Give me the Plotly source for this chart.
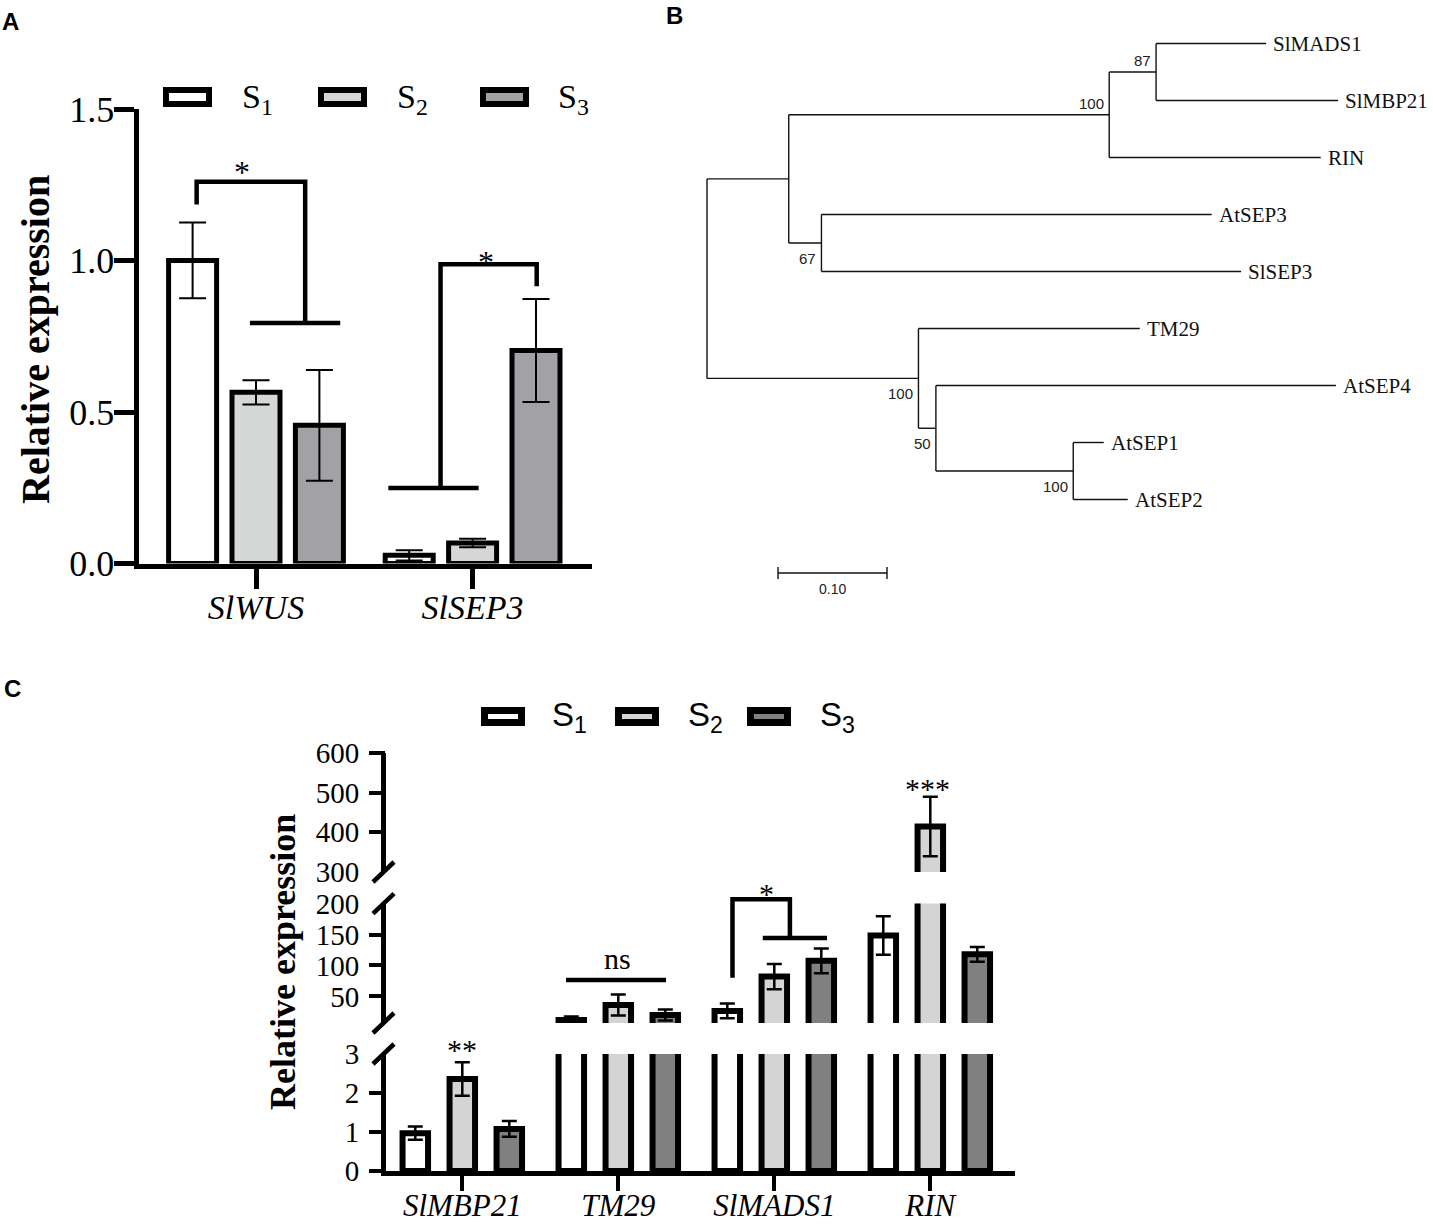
import plotly.graph_objects as go

W, H = 1433, 1224

# ---------------- data ----------------
series_labels = ["S<sub>1</sub>", "S<sub>2</sub>", "S<sub>3</sub>"]
colors_A = ["#ffffff", "#d5d7d6", "#a2a2a6"]
colors_C = ["#ffffff", "#d4d4d4", "#808080"]

# Panel A
genes_A = ["SlWUS", "SlSEP3"]
expr_A_S1 = [1.0, 0.027]
expr_A_S2 = [0.565, 0.068]
expr_A_S3 = [0.456, 0.703]
err_A_S1 = [0.125, 0.017]
err_A_S2 = [0.04, 0.014]
err_A_S3 = [0.183, 0.17]
ticks_A = [0, 0.5, 1.0, 1.5]
ticklabels_A = ["0.0", "0.5", "1.0", "1.5"]

# Panel C
genes_C = ["SlMBP21", "TM29", "SlMADS1", "RIN"]
expr_C_S1 = [0.97, 12, 26.5, 148.5]
expr_C_S2 = [2.36, 36, 82, 415]
expr_C_S3 = [1.08, 20, 107.5, 118]
err_C_S1 = [0.17, 5.5, 12, 31]
err_C_S2 = [0.43, 17, 20.5, 75]
err_C_S3 = [0.2, 9, 20, 12]
seg_range_C = [[0, 3], [7, 200], [300, 600]]
seg_labels_C = [[0, 1, 2, 3], [50, 100, 150, 200], [300, 400, 500, 600]]
seg_marks_C = [[0, 1, 2], [50, 100, 150], [400, 500, 600]]

# Panel B tree
tree_nodes = ["root", "n1", "n2", "n87", "SlMADS1", "SlMBP21", "RIN", "n67", "AtSEP3", "SlSEP3",
              "n3", "TM29", "n50", "AtSEP4", "n4", "AtSEP1", "AtSEP2"]
tree_parents = [None, "root", "n1", "n2", "n87", "n87", "n2", "n1", "n67", "n67",
                "root", "n3", "n3", "n50", "n50", "n4", "n4"]
tree_branch = [0.0, 0.075, 0.294, 0.043, 0.101, 0.167, 0.194, 0.030, 0.358, 0.385,
               0.194, 0.203, 0.016, 0.367, 0.126, 0.028, 0.050]
tree_bootstrap = {"n2": 100, "n87": 87, "n67": 67, "n3": 100, "n50": 50, "n4": 100}
scale_bar_length = 0.10

# significance marks
sig_A_brackets = [
    [(-0.274, 1.185), (-0.274, 1.26), (0.227, 1.26), (0.227, 0.794)],
    [(-0.028, 0.794), (0.389, 0.794)],
    [(0.611, 0.249), (1.028, 0.249)],
    [(0.852, 0.249), (0.852, 0.988), (1.296, 0.988), (1.296, 0.915)],
]
sig_A_text = [(-0.065, 1.312, "*"), (1.062, 1.015, "*")]
# (x unit, value, segment)
sig_C_brackets = [
    [(0.665, 76.5, 1), (1.306, 76.5, 1)],
    [(1.732, 80, 1), (1.732, 207, 1), (2.10, 207, 1), (2.10, 144.5, 1)],
    [(1.926, 144.5, 1), (2.338, 144.5, 1)],
]
sig_C_text = [(0.0, 3.20, 0, "**"), (0.992, 112, 1, "ns"), (1.951, 221, 1, "*"), (2.985, 519, 2, "***")]

# ---------------- geometry (pixels) ----------------
SERIF = "Liberation Serif"
SANS = "Liberation Sans"

A_g0, A_unit = 256.0, 216.6
A_xdom = (138.5, 592.0)
A_ydom = (109.0, 563.5)  # top, bottom
A_slot = 63.4 / A_unit
A_w = 48.0 / A_unit

C_g0, C_unit = 462.3, 156.0
C_xdom = (386.0, 1015.0)
C_ydom = [(1054.0, 1171.0), (903.6, 1023.0), (753.0, 872.0)]
C_slot = 47.0 / C_unit
C_w = 25.5 / C_unit

B_x0, B_scale = 707.0, 1090.0
B_y0, B_step = 43.5, 57.0
B_xdom = (660.0, 1433.0)
B_ydom = (0.0, 610.0)


def py(p):
    return 1 - p / H


def C_yp(seg, v):
    r0, r1 = seg_range_C[seg]
    top, bot = C_ydom[seg]
    return py(bot - (v - r0) / (r1 - r0) * (bot - top))


fig = go.Figure()

# ---------------- Panel A ----------------
A_vals = [expr_A_S1, expr_A_S2, expr_A_S3]
A_errs = [err_A_S1, err_A_S2, err_A_S3]
for i in range(3):
    fig.add_trace(go.Bar(
        x=list(range(len(genes_A))), y=A_vals[i], width=A_w, offset=(i - 1) * A_slot - A_w / 2,
        marker=dict(color=colors_A[i], line=dict(color="black", width=5)),
        error_y=dict(type="data", array=A_errs[i], color="black", thickness=2, width=13.5),
        xaxis="x", yaxis="y", showlegend=False, hoverinfo="skip"))

# ---------------- Panel C (broken axis: same bars drawn in 3 segments) ----------------
C_vals = [expr_C_S1, expr_C_S2, expr_C_S3]
C_errs = [err_C_S1, err_C_S2, err_C_S3]
for seg, yax in enumerate(["y3", "y4", "y5"]):
    lo = seg_range_C[seg][0]
    for i in range(3):
        vis = [v if v > lo else None for v in C_vals[i]]
        fig.add_trace(go.Bar(
            x=list(range(len(genes_C))), y=vis, width=C_w, offset=(i - 1) * C_slot - C_w / 2,
            marker=dict(color=colors_C[i], line=dict(color="black", width=6)),
            error_y=dict(type="data", array=C_errs[i], color="black", thickness=2.5, width=7.5),
            xaxis="x3", yaxis=yax, showlegend=False, hoverinfo="skip"))
for yax in ["y6", "y7", "y8"]:
    fig.add_trace(go.Scatter(x=[None], y=[None], xaxis="x3", yaxis=yax, showlegend=False, hoverinfo="skip"))

# ---------------- Panel B tree ----------------
children = {n: [] for n in tree_nodes}
for n, p in zip(tree_nodes, tree_parents):
    if p:
        children[p].append(n)
blen = dict(zip(tree_nodes, tree_branch))
parent_of = dict(zip(tree_nodes, tree_parents))
depth, ypos = {}, {}
leaf_counter = [0]


def walk(n, d):
    depth[n] = d
    if not children[n]:
        ypos[n] = leaf_counter[0]
        leaf_counter[0] += 1
    else:
        for c in children[n]:
            walk(c, d + blen[c])
        ypos[n] = (ypos[children[n][0]] + ypos[children[n][-1]]) / 2


walk("root", 0.0)
tx, ty = [], []
for n in tree_nodes:
    p = parent_of[n]
    if p:
        tx += [depth[p], depth[n], None]
        ty += [ypos[n], ypos[n], None]
    if children[n]:
        tx += [depth[n], depth[n], None]
        ty += [ypos[children[n][0]], ypos[children[n][-1]], None]
fig.add_trace(go.Scatter(x=tx, y=ty, mode="lines", line=dict(color="#111111", width=1.4),
                         xaxis="x2", yaxis="y2", showlegend=False, hoverinfo="skip"))
sb_x0 = (778 - B_x0) / B_scale
sb_y = (573 - B_y0) / B_step
sb_t = 6 / B_step
fig.add_trace(go.Scatter(
    x=[sb_x0, sb_x0 + scale_bar_length, None, sb_x0, sb_x0, None, sb_x0 + scale_bar_length, sb_x0 + scale_bar_length],
    y=[sb_y, sb_y, None, sb_y - sb_t, sb_y + sb_t, None, sb_y - sb_t, sb_y + sb_t],
    mode="lines", line=dict(color="#111111", width=1.4), xaxis="x2", yaxis="y2",
    showlegend=False, hoverinfo="skip"))

annotations = []
shapes = []

for n in tree_nodes:
    if not children[n]:
        annotations.append(dict(x=depth[n], y=ypos[n], xref="x2", yref="y2", text=n, showarrow=False,
                                xanchor="left", yanchor="middle", xshift=5,
                                font=dict(family=SERIF, size=21, color="#111111")))
for n, b in tree_bootstrap.items():
    p = parent_of[n]
    upper = children[p].index(n) == 0
    annotations.append(dict(x=depth[n], y=ypos[n], xref="x2", yref="y2", text=str(b), showarrow=False,
                            xanchor="right", yanchor="bottom" if upper else "top",
                            xshift=-3, yshift=1 if upper else -5,
                            font=dict(family=SANS, size=15, color="#222222")))
annotations.append(dict(x=sb_x0 + scale_bar_length / 2, y=sb_y, xref="x2", yref="y2", text="0.10",
                        showarrow=False, xanchor="center", yanchor="top", yshift=-6,
                        font=dict(family=SANS, size=14, color="#222222")))

# ---------------- significance ----------------
for path in sig_A_brackets:
    d = "M " + " L ".join(f"{x},{y}" for x, y in path)
    shapes.append(dict(type="path", path=d, xref="x", yref="y", line=dict(color="black", width=4.5)))
for x, v, t in sig_A_text:
    annotations.append(dict(x=x, y=v, xref="x", yref="y", text=t, showarrow=False,
                            xanchor="center", yanchor="middle", yshift=-6,
                            font=dict(family=SERIF, size=32, color="black")))
for path in sig_C_brackets:
    d = "M " + " L ".join(f"{x},{C_yp(s, v)}" for x, v, s in path)
    shapes.append(dict(type="path", path=d, xref="x3", yref="paper", line=dict(color="black", width=4.5)))
for x, v, s, t in sig_C_text:
    annotations.append(dict(x=x, y=C_yp(s, v), xref="x3", yref="paper", text=t, showarrow=False,
                            xanchor="center", yanchor="middle", yshift=-3 if t != "ns" else 0,
                            font=dict(family=SERIF, size=30, color="black")))

# axis break slashes
for seg, (top, bot) in enumerate(C_ydom):
    ends = []
    if seg > 0:
        ends.append(bot)
    if seg < 2:
        ends.append(top)
    for e in ends:
        cx = C_xdom[0] - 2.5
        shapes.append(dict(type="line", xref="paper", yref="paper",
                           x0=(cx - 10.5) / W, y0=py(e + 10), x1=(cx + 10.5) / W, y1=py(e - 10),
                           line=dict(color="black", width=4.5)))

# ---------------- legends ----------------
legA_box_x = [163, 318, 480]
legA_text_x = [240, 395, 556]
for i in range(3):
    shapes.append(dict(type="rect", xref="paper", yref="paper",
                       x0=(legA_box_x[i] + 3) / W, x1=(legA_box_x[i] + 49 - 3) / W,
                       y0=py(87 + 3), y1=py(107 - 3), fillcolor=colors_A[i],
                       line=dict(color="black", width=6)))
    annotations.append(dict(x=legA_text_x[i] / W, y=py(99), xref="paper", yref="paper",
                            text=series_labels[i], showarrow=False, xanchor="left", yanchor="middle",
                            font=dict(family=SERIF, size=34, color="black")))
legC_box_x = [481, 615, 747]
legC_text_x = [550, 686, 818]
for i in range(3):
    shapes.append(dict(type="rect", xref="paper", yref="paper",
                       x0=(legC_box_x[i] + 3.5) / W, x1=(legC_box_x[i] + 44 - 3.5) / W,
                       y0=py(707 + 3.5), y1=py(726 - 3.5), fillcolor=colors_C[i],
                       line=dict(color="black", width=7)))
    annotations.append(dict(x=legC_text_x[i] / W, y=py(717), xref="paper", yref="paper",
                            text=series_labels[i], showarrow=False, xanchor="left", yanchor="middle",
                            font=dict(family=SANS, size=33, color="black")))

# titles and panel letters
annotations.append(dict(x=35 / W, y=py(340), xref="paper", yref="paper", text="<b>Relative expression</b>",
                        textangle=-90, showarrow=False, xanchor="center", yanchor="middle",
                        font=dict(family=SERIF, size=40, color="black")))
annotations.append(dict(x=283 / W, y=py(962), xref="paper", yref="paper", text="<b>Relative expression</b>",
                        textangle=-90, showarrow=False, xanchor="center", yanchor="middle",
                        font=dict(family=SERIF, size=36, color="black")))
for letter, lx, ly in [("A", 10, 21), ("B", 674, 16), ("C", 12, 688)]:
    annotations.append(dict(x=lx / W, y=py(ly), xref="paper", yref="paper", text=f"<b>{letter}</b>",
                            showarrow=False, xanchor="center", yanchor="middle",
                            font=dict(family=SANS, size=24, color="black")))

# ---------------- axes ----------------
common = dict(showgrid=False, zeroline=False, fixedrange=True, automargin=False)
layout_axes = dict(
    xaxis=dict(domain=[A_xdom[0] / W, A_xdom[1] / W],
               range=[(A_xdom[0] - A_g0) / A_unit, (A_xdom[1] - A_g0) / A_unit],
               anchor="y", showline=True, linecolor="black", linewidth=5,
               ticks="outside", ticklen=20, tickwidth=5, tickcolor="black",
               tickvals=list(range(len(genes_A))), ticktext=[f"<i>{g}</i>" for g in genes_A],
               ticklabelstandoff=-10,
               tickfont=dict(family=SERIF, size=34, color="black"), **common),
    yaxis=dict(domain=[py(A_ydom[1]), py(A_ydom[0])], range=[0, 1.5], anchor="x",
               showline=True, linecolor="black", linewidth=5,
               ticks="outside", ticklen=20, tickwidth=5, tickcolor="black",
               tickvals=ticks_A, ticktext=ticklabels_A, ticklabelstandoff=-8,
               tickfont=dict(family=SERIF, size=36, color="black"), **common),
    xaxis2=dict(domain=[B_xdom[0] / W, B_xdom[1] / W],
                range=[(B_xdom[0] - B_x0) / B_scale, (B_xdom[1] - B_x0) / B_scale],
                anchor="y2", visible=False, **common),
    yaxis2=dict(domain=[py(B_ydom[1]), py(B_ydom[0])],
                range=[(B_ydom[1] - B_y0) / B_step, (B_ydom[0] - B_y0) / B_step],
                anchor="x2", visible=False, **common),
    xaxis3=dict(domain=[C_xdom[0] / W, C_xdom[1] / W],
                range=[(C_xdom[0] - C_g0) / C_unit, (C_xdom[1] - C_g0) / C_unit],
                anchor="y3", showline=True, linecolor="black", linewidth=5,
                ticks="outside", ticklen=15, tickwidth=4, tickcolor="black",
                tickvals=list(range(len(genes_C))), ticktext=[f"<i>{g}</i>" for g in genes_C],
                ticklabelstandoff=-12,
                tickfont=dict(family=SERIF, size=31, color="black"), **common),
)
for seg in range(3):
    top, bot = C_ydom[seg]
    layout_axes[f"yaxis{3 + seg}"] = dict(
        domain=[py(bot), py(top)], range=seg_range_C[seg], anchor="x3",
        showline=True, linecolor="black", linewidth=5,
        ticks="outside", ticklen=16, tickwidth=4, tickcolor="rgba(0,0,0,0)",
        tickvals=seg_labels_C[seg], ticktext=[str(v) for v in seg_labels_C[seg]],
        tickfont=dict(family=SERIF, size=29, color="black"), **common)
    layout_axes[f"yaxis{6 + seg}"] = dict(
        overlaying=f"y{3 + seg}", range=seg_range_C[seg], anchor="x3",
        showline=False, ticks="outside", ticklen=16, tickwidth=4,
        tickcolor="black", tickvals=seg_marks_C[seg], showticklabels=False, **common)

fig.update_layout(
    width=W, height=H, margin=dict(l=0, r=0, t=0, b=0, autoexpand=False), autosize=False,
    paper_bgcolor="white", plot_bgcolor="rgba(0,0,0,0)", barmode="overlay",
    shapes=shapes, annotations=annotations, showlegend=False, **layout_axes)

fig.write_html("out.html", config={"displayModeBar": False},
               post_script="document.body.style.margin='0';")
